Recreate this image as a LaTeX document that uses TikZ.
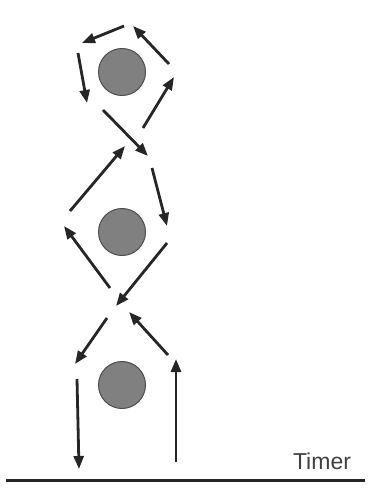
\documentclass[tikz,border=0pt]{standalone}
\usepackage{fontspec}
\setmainfont{Liberation Sans}
\usetikzlibrary{arrows.meta}
\begin{document}
\begin{tikzpicture}[x=1pt,y=-1pt,
  ball/.style={circle,draw=black!70,line width=1pt,fill=black!50,minimum size=47pt,inner sep=0pt},
  mv/.style={line width=2.8pt,black!85,-{Triangle[length=13pt,width=10pt]}}]
\useasboundingbox (0,0) rectangle (378,495);
% balls
\node[ball] (b1) at (122,72) {};
\node[ball] (b2) at (122,232) {};
\node[ball] (b3) at (122,385) {};
% top ring
\coordinate (t1a) at (124,26);  \coordinate (t1b) at (82,43);
\coordinate (t2a) at (169,64);  \coordinate (t2b) at (133,26);
\coordinate (t3a) at (78,53);   \coordinate (t3b) at (87,103);
\coordinate (t4a) at (143,128); \coordinate (t4b) at (174,77);
\coordinate (t5a) at (103,110); \coordinate (t5b) at (148,156);
% middle
\coordinate (m1a) at (70,211);  \coordinate (m1b) at (125,146);
\coordinate (m2a) at (152,168); \coordinate (m2b) at (167,226);
\coordinate (m3a) at (110,288); \coordinate (m3b) at (64,226);
\coordinate (m4a) at (167,243); \coordinate (m4b) at (116,306);
% bottom
\coordinate (l1a) at (107,318); \coordinate (l1b) at (75,364);
\coordinate (l2a) at (168,355); \coordinate (l2b) at (129,312);
\coordinate (l3a) at (77,379);  \coordinate (l3b) at (79,469);
\coordinate (l4a) at (176,462); \coordinate (l4b) at (176,359);
\foreach \p in {t1,t2,t3,t4,t5,m1,m2,m3,m4,l1,l2,l3,l4}
  \draw[mv] (\p a) -- (\p b);
% timer line
\coordinate (g1) at (6,480.5);
\coordinate (g2) at (365,480.5);
\draw[line width=3pt,black!85] (g1) -- (g2);
\node[anchor=base,inner sep=0pt,font=\fontsize{23}{25}\selectfont,text=black!75] (timer) at (322,469) {Timer};
\end{tikzpicture}
\end{document}
